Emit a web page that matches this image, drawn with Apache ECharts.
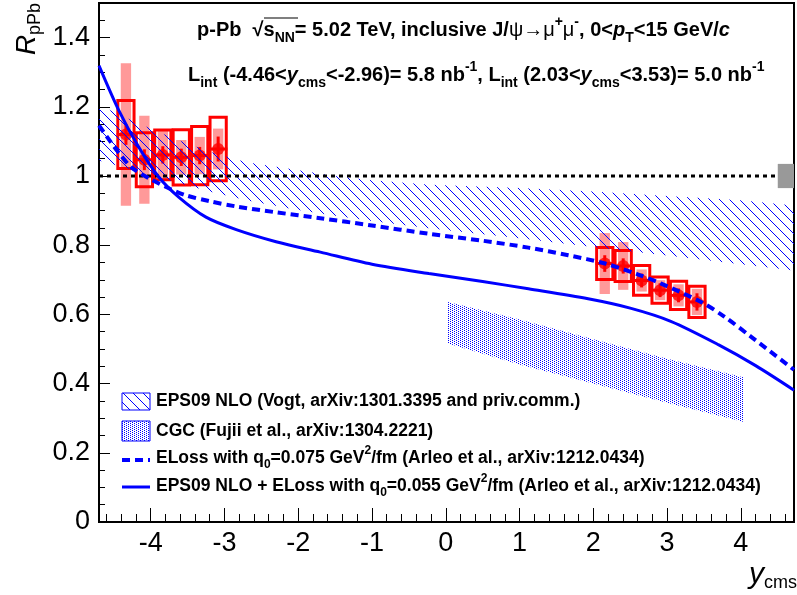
<!DOCTYPE html>
<html>
<head>
<meta charset="utf-8">
<script src="https://cdn.jsdelivr.net/npm/echarts@6/dist/echarts.min.js"></script>
<style>
  html, body { margin: 0; padding: 0; background: #fff; }
  #chart { width: 797px; height: 595px; }
</style>
</head>
<body>
<div id="chart"></div>
<script>
// ALICE inclusive J/psi R_pPb vs y_cms
const bwdY = [-4.335, -4.085, -3.835, -3.585, -3.335, -3.085];
const bwdR = [1.12, 1.047, 1.061, 1.054, 1.059, 1.078];
const bwdStat = [0.03, 0.03, 0.025, 0.025, 0.025, 0.036];
const bwdSysUncorr = [0.098, 0.078, 0.072, 0.08, 0.084, 0.092];
const bwdSysCorr = [0.206, 0.127, 0.07, 0.05, 0.054, 0.059];

const fwdY = [2.155, 2.405, 2.655, 2.905, 3.155, 3.405];
const fwdR = [0.747, 0.74, 0.698, 0.67, 0.655, 0.636];
const fwdStat = [0.024, 0.022, 0.02, 0.02, 0.02, 0.025];
const fwdSysUncorr = [0.046, 0.045, 0.043, 0.038, 0.041, 0.045];
const fwdSysCorr = [0.088, 0.069, 0.032, 0.029, 0.032, 0.038];

const binHalf = 0.125;
const globalSys = 0.035;

// EPS09 NLO band (Vogt)
const eps09X = [-4.7, -4.2, -3.7, -3.2, -2.7, -2.1, -1.5, -1.0, -0.2, 1.0, 2.0, 3.0, 4.0, 4.72];
const eps09Hi = [1.205, 1.155, 1.11, 1.07, 1.04, 1.02, 1.0, 0.988, 0.975, 0.965, 0.955, 0.942, 0.93, 0.915];
const eps09Lo = [1.045, 1.015, 0.985, 0.955, 0.93, 0.905, 0.885, 0.87, 0.848, 0.82, 0.795, 0.77, 0.745, 0.727];

// CGC band (Fujii et al.)
const cgcX = [0.03, 1.0, 2.0, 3.0, 4.03];
const cgcHi = [0.636, 0.585, 0.528, 0.472, 0.418];
const cgcLo = [0.516, 0.455, 0.4, 0.345, 0.29];

// ELoss q0=0.075 (dashed)
const elossX = [-4.7, -4.44, -4.26, -4.01, -3.74, -3.52, -3.2, -2.84, -2.3, -1.7, -1.0, -0.23, 0.5, 1.12, 1.66, 2.16, 2.6, 2.92, 3.46, 3.78, 4.14, 4.72];
const elossR = [1.146, 1.069, 1.025, 0.992, 0.963, 0.944, 0.927, 0.912, 0.895, 0.878, 0.857, 0.833, 0.813, 0.793, 0.771, 0.747, 0.716, 0.689, 0.636, 0.593, 0.535, 0.44];

// EPS09 NLO + ELoss q0=0.055 (solid)
const epsElX = [-4.7, -4.43, -4.16, -3.89, -3.62, -3.25, -2.84, -2.3, -1.7, -1.0, -0.23, 0.5, 1.12, 1.93, 2.5, 3.05, 3.7, 4.2, 4.72];
const epsElR = [1.319, 1.189, 1.083, 0.997, 0.939, 0.881, 0.845, 0.81, 0.78, 0.745, 0.718, 0.695, 0.674, 0.645, 0.618, 0.58, 0.512, 0.452, 0.381];

const FONT = 'Liberation Sans, Arial, sans-serif';
const RED = '#ff0000';
const PINK = '#ff9999';
const BLUE = '#0000ff';

function makePattern(w, h, pts) {
  const c = document.createElement('canvas');
  c.width = w; c.height = h;
  const ctx = c.getContext('2d');
  ctx.fillStyle = BLUE;
  pts.forEach(p => ctx.fillRect(p[0], p[1], 1, 1));
  return c;
}
const hatchPts = [];
for (let i = 0; i < 10; i++) hatchPts.push([i, i]);
const hatchFill = { image: makePattern(10, 10, hatchPts), repeat: 'repeat' };
const stippleFill = { image: makePattern(4, 2, [[0, 0], [2, 1]]), repeat: 'repeat' };

function bandRenderer(xs, lo, hi, fill) {
  return function (params, api) {
    if (params.dataIndex !== 0) return;
    const pts = [];
    xs.forEach((x, i) => pts.push(api.coord([x, hi[i]])));
    for (let i = xs.length - 1; i >= 0; i--) pts.push(api.coord([xs[i], lo[i]]));
    return { type: 'polygon', shape: { points: pts }, style: { fill: fill, stroke: null } };
  };
}

function boxRenderer(halfW, style) {
  return function (params, api) {
    const x = api.value(0), y = api.value(1), e = api.value(2);
    const p1 = api.coord([x - halfW, y + e]);
    const p2 = api.coord([x + halfW, y - e]);
    return {
      type: 'rect',
      shape: { x: p1[0], y: p1[1], width: p2[0] - p1[0], height: p2[1] - p1[1] },
      style: style
    };
  };
}

function errRenderer(params, api) {
  const x = api.value(0), y = api.value(1), e = api.value(2);
  const t = api.coord([x, y + e]), b = api.coord([x, y - e]);
  const l = api.coord([x - binHalf, y]), r = api.coord([x + binHalf, y]);
  const st = { stroke: RED, lineWidth: 3 };
  return {
    type: 'group',
    children: [
      { type: 'line', shape: { x1: t[0], y1: t[1], x2: b[0], y2: b[1] }, style: st },
      { type: 'line', shape: { x1: l[0], y1: l[1], x2: r[0], y2: r[1] }, style: st }
    ]
  };
}

const allY = bwdY.concat(fwdY);
const allR = bwdR.concat(fwdR);
const zip3 = (a, b, c) => a.map((v, i) => [v, b[i], c[i]]);
const corrData = zip3(allY, allR, bwdSysCorr.concat(fwdSysCorr));
const uncorrData = zip3(allY, allR, bwdSysUncorr.concat(fwdSysUncorr));
const statData = zip3(allY, allR, bwdStat.concat(fwdStat));

const chart = echarts.init(document.getElementById('chart'), null, { renderer: 'canvas' });

function makeRich(size, subSize) {
  const base = { fontFamily: FONT, fontSize: size, fontWeight: 'bold', lineHeight: Math.round(size * 1.5), fill: '#000' };
  return {
    b: base,
    i: Object.assign({}, base, { fontStyle: 'italic' }),
    g: Object.assign({}, base, { fontWeight: 'normal' }),
    sub: { fontFamily: FONT, fontSize: subSize, fontWeight: 'bold', lineHeight: subSize, verticalAlign: 'bottom', fill: '#000' },
    sup: { fontFamily: FONT, fontSize: subSize, fontWeight: 'bold', lineHeight: Math.round(subSize * 1.35), verticalAlign: 'top', fill: '#000' }
  };
}
const legendRich = makeRich(17.5, 12);
const titleRich = makeRich(20, 14);

function richText(x, y, text, rich) {
  return {
    type: 'text', x: x, y: y, z: 100,
    style: { text: text, rich: rich, verticalAlign: 'middle', align: 'left', fill: '#000' }
  };
}

const legendX = 122, legendW = 28, legendTextX = 156;
const graphics = [
  richText(197, 30, '{b|p-Pb  \u221A}{b|s}{sub|NN}{b|= 5.02 TeV, inclusive J/}{g|\u03C8\u2192\u03BC}{sup|+}{g|\u03BC}{sup|-}{b|, 0<}{i|p}{sub|T}{b|<15 GeV/}{i|c}', titleRich),
  { type: 'line', z: 100, shape: { x1: 264, y1: 18, x2: 298, y2: 18 }, style: { stroke: '#000', lineWidth: 1.2 } },
  richText(188, 75, '{b|L}{sub|int}{b| (-4.46<}{i|y}{sub|cms}{b|<-2.96)= 5.8 nb}{sup|-1}{b|, L}{sub|int}{b| (2.03<}{i|y}{sub|cms}{b|<3.53)= 5.0 nb}{sup|-1}', titleRich),
  // legend
  { type: 'rect', z: 100, shape: { x: legendX, y: 393, width: legendW, height: 17 }, style: { fill: hatchFill, stroke: BLUE, lineWidth: 1 } },
  richText(legendTextX, 401, '{b|EPS09 NLO (Vogt, arXiv:1301.3395 and priv.comm.)}', legendRich),
  { type: 'rect', z: 100, shape: { x: legendX, y: 421, width: legendW, height: 20 }, style: { fill: stippleFill, stroke: BLUE, lineWidth: 1 } },
  richText(legendTextX, 431, '{b|CGC (Fujii et al., arXiv:1304.2221)}', legendRich),
  { type: 'line', z: 100, shape: { x1: legendX, y1: 460, x2: legendX + legendW, y2: 460 }, style: { stroke: BLUE, lineWidth: 4, lineDash: [8, 5] } },
  richText(legendTextX, 458, '{b|ELoss with q}{sub|0}{b|=0.075 GeV}{sup|2}{b|/fm (Arleo et al., arXiv:1212.0434)}', legendRich),
  { type: 'line', z: 100, shape: { x1: legendX, y1: 487, x2: legendX + legendW, y2: 487 }, style: { stroke: BLUE, lineWidth: 3 } },
  richText(legendTextX, 486, '{b|EPS09 NLO + ELoss with q}{sub|0}{b|=0.055 GeV}{sup|2}{b|/fm (Arleo et al., arXiv:1212.0434)}', legendRich),
  // axis titles
  {
    type: 'text', x: 27, y: 29, rotation: Math.PI / 2, z: 100,
    style: {
      text: '{r|R}{s|pPb}', align: 'center', verticalAlign: 'middle',
      rich: {
        r: { fontFamily: FONT, fontSize: 28, fontStyle: 'italic', lineHeight: 34, fill: '#000' },
        s: { fontFamily: FONT, fontSize: 18, lineHeight: 18, verticalAlign: 'bottom', fill: '#000' }
      }
    }
  },
  {
    type: 'text', x: 797, y: 575, z: 100,
    style: {
      text: '{r|y}{s|cms}', align: 'right', verticalAlign: 'middle',
      rich: {
        r: { fontFamily: FONT, fontSize: 30, fontStyle: 'italic', lineHeight: 34, fill: '#000' },
        s: { fontFamily: FONT, fontSize: 18, lineHeight: 18, verticalAlign: 'bottom', fill: '#000' }
      }
    }
  }
];

const option = {
  animation: false,
  backgroundColor: '#fff',
  grid: { left: 99, right: 1, top: 3, bottom: 73, show: true, borderColor: '#000', borderWidth: 2 },
  xAxis: {
    type: 'value', min: -4.7, max: 4.72, splitNumber: 10,
    axisLine: { show: true, onZero: false, lineStyle: { color: '#000', width: 2 } },
    axisTick: { show: true, inside: true, length: 14, lineStyle: { color: '#000', width: 1 } },
    minorTick: { show: true, splitNumber: 5, length: 8, lineStyle: { color: '#000', width: 1 } },
    splitLine: { show: false },
    axisLabel: {
      color: '#000', fontSize: 27, fontFamily: FONT, margin: 8,
      formatter: v => (Math.abs(v - Math.round(v)) < 1e-6 ? String(Math.round(v)) : '')
    }
  },
  yAxis: {
    type: 'value', min: 0, max: 1.5, interval: 0.2,
    axisLine: { show: true, onZero: false, lineStyle: { color: '#000', width: 2 } },
    axisTick: { show: true, inside: true, length: 11, lineStyle: { color: '#000', width: 1 } },
    minorTick: { show: true, splitNumber: 4, length: 6, lineStyle: { color: '#000', width: 1 } },
    splitLine: { show: false },
    axisLabel: {
      color: '#000', fontSize: 27, fontFamily: FONT, margin: 9,
      formatter: v => (Math.abs(v * 5 - Math.round(v * 5)) < 1e-6 ? String(+v.toFixed(1)) : '')
    }
  },
  graphic: graphics,
  series: [
    { type: 'custom', name: 'corr', renderItem: boxRenderer(0.07, { fill: PINK }), data: corrData, z: 2 },
    { type: 'custom', name: 'uncorr', renderItem: boxRenderer(0.11, { fill: null, stroke: RED, lineWidth: 3 }), data: uncorrData, z: 3 },
    { type: 'custom', name: 'stat', renderItem: errRenderer, data: statData, z: 4 },
    { type: 'scatter', name: 'data', symbol: 'circle', symbolSize: 12, itemStyle: { color: RED }, data: allY.map((y, i) => [y, allR[i]]), z: 5 },
    { type: 'custom', name: 'EPS09', renderItem: bandRenderer(eps09X, eps09Lo, eps09Hi, hatchFill), data: [[0, 1]], z: 6, clip: true },
    { type: 'custom', name: 'CGC', renderItem: bandRenderer(cgcX, cgcLo, cgcHi, stippleFill), data: [[0, 0.5]], z: 6, clip: true },
    {
      type: 'line', name: 'unity', data: [[-4.7, 1], [4.5, 1]], showSymbol: false, z: 7,
      lineStyle: { color: '#000', width: 3, type: [4, 4] }
    },
    {
      type: 'custom', name: 'global', z: 7,
      renderItem: function (params, api) {
        const p1 = api.coord([api.value(0), 1 + api.value(2)]);
        const p2 = api.coord([api.value(1), 1 - api.value(2)]);
        return { type: 'rect', shape: { x: p1[0], y: p1[1], width: p2[0] - p1[0], height: p2[1] - p1[1] }, style: { fill: '#999999' } };
      },
      data: [[4.5, 4.72, globalSys]]
    },
    {
      type: 'line', name: 'ELoss', data: elossX.map((x, i) => [x, elossR[i]]), showSymbol: false, smooth: 0.3, z: 8,
      lineStyle: { color: BLUE, width: 4, type: [8, 5], cap: 'butt' }
    },
    {
      type: 'line', name: 'EPS09+ELoss', data: epsElX.map((x, i) => [x, epsElR[i]]), showSymbol: false, smooth: 0.3, z: 8,
      lineStyle: { color: BLUE, width: 3 }
    }
  ]
};

chart.setOption(option);
</script>
</body>
</html>
